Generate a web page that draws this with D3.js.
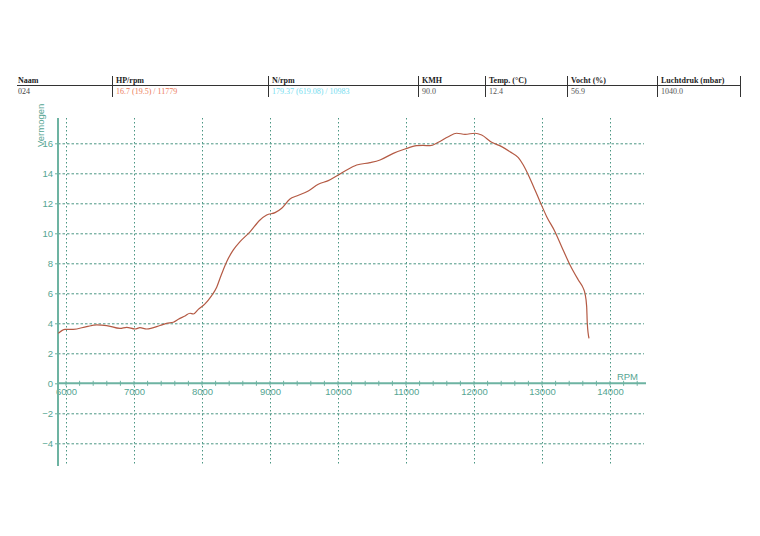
<!DOCTYPE html>
<html>
<head>
<meta charset="utf-8">
<script src="https://cdn.jsdelivr.net/npm/d3@7"></script>
<style>
  body { margin: 0; background: #fff; }
  svg { display: block; }
</style>
</head>
<body>
<script>
const width = 760;
const height = 536;

// header table
const headers = ["Naam", "HP/rpm", "N/rpm", "KMH", "Temp. (°C)", "Vocht (%)", "Luchtdruk (mbar)"];
const values = ["024", "16.7 (19.5) / 11779", "179.37 (619.08) / 10983", "90.0", "12.4", "56.9", "1040.0"];
const valueColors = ["#444", "#ec7a5a", "#74dcef", "#555", "#555", "#555", "#555"];
const colX = [18, 112, 268, 418, 485, 567, 657, 740];

// power curve (rpm, vermogen)
const rpm = [5887, 5985, 6107, 6304, 6451, 6598, 6794, 6892, 7015, 7088, 7186, 7382, 7480, 7578,
  7652, 7750, 7824, 7873, 7946, 7995, 8044, 8142, 8216, 8265, 8363, 8461, 8559, 8706, 8853,
  8951, 9074, 9172, 9294, 9392, 9563, 9710, 9857, 10004, 10128, 10275, 10471, 10618, 10813,
  10985, 11157, 11250, 11353, 11475, 11622, 11745, 11868, 12015, 12113, 12260, 12407, 12529,
  12652, 12725, 12799, 12897, 12971, 13069, 13191, 13289, 13412, 13534, 13608, 13632, 13657,
  13666, 13691];
const power = [3.33, 3.6, 3.6, 3.78, 3.89, 3.85, 3.66, 3.73, 3.62, 3.71, 3.62, 3.85, 4.0, 4.07,
  4.27, 4.49, 4.67, 4.62, 4.93, 5.1, 5.3, 5.85, 6.4, 7.0, 8.11, 8.89, 9.44, 10.1, 10.89,
  11.22, 11.38, 11.67, 12.29, 12.49, 12.82, 13.27, 13.51, 13.89, 14.22, 14.55, 14.71, 14.89, 15.33,
  15.62, 15.84, 15.86, 15.84, 16.07, 16.44, 16.67, 16.6, 16.67, 16.55, 16.07, 15.78, 15.44,
  15.04, 14.55, 13.89, 12.89, 12.11, 11.11, 10.11, 9.11, 7.89, 6.89, 6.33, 6.0, 5.11,
  4.0, 3.0];

const xTicks = d3.range(6000, 14001, 1000);
const yTicks = d3.range(-4, 17, 2);

const gridColor = "#4a9683";
const axisColor = "#6db3a2";
const textColor = "#55a592";

const svg = d3
  .select("body")
  .append("svg")
  .attr("width", width)
  .attr("height", height);

// header
const head = svg.append("g").attr("font-family", "Liberation Serif, serif").attr("font-size", 8);

head
  .append("line")
  .attr("x1", 17)
  .attr("x2", 741)
  .attr("y1", 85.5)
  .attr("y2", 85.5)
  .attr("stroke", "#333")
  .attr("stroke-width", 1);

head
  .selectAll("line.div")
  .data(colX.slice(1))
  .join("line")
  .attr("class", "div")
  .attr("x1", (d) => d + 0.5)
  .attr("x2", (d) => d + 0.5)
  .attr("y1", 76)
  .attr("y2", 97)
  .attr("stroke", "#333");

head
  .selectAll("text.h")
  .data(headers)
  .join("text")
  .attr("class", "h")
  .attr("x", (d, i) => colX[i] + (i ? 4 : 0))
  .attr("y", 83)
  .attr("font-weight", "bold")
  .attr("fill", "#222")
  .text((d) => d);

head
  .selectAll("text.v")
  .data(values)
  .join("text")
  .attr("class", "v")
  .attr("x", (d, i) => colX[i] + (i ? 4 : 0))
  .attr("y", 94)
  .attr("fill", (d, i) => valueColors[i])
  .text((d) => d);

// scales
const x = d3.scaleLinear().domain([6000, 14000]).range([66, 610]);
const y = d3.scaleLinear().domain([-4, 16]).range([443.3, 143.3]);

const xMin = x.invert(58);
const xMax = x.invert(646);
const xGridEnd = x.invert(644);
const yMin = y.invert(466);
const yMax = y.invert(118);

// grid
svg
  .append("g")
  .selectAll("line")
  .data(xTicks)
  .join("line")
  .attr("x1", (d) => x(d) + 0.5)
  .attr("x2", (d) => x(d) + 0.5)
  .attr("y1", y(yMax))
  .attr("y2", y(yMin))
  .attr("stroke", gridColor)
  .attr("stroke-width", 1)
  .attr("stroke-dasharray", "1.5,2.5");

svg
  .append("g")
  .selectAll("line")
  .data(yTicks.filter((d) => d !== 0))
  .join("line")
  .attr("x1", x(xMin))
  .attr("x2", x(xGridEnd))
  .attr("y1", (d) => y(d) + 0.5)
  .attr("y2", (d) => y(d) + 0.5)
  .attr("stroke", gridColor)
  .attr("stroke-width", 1)
  .attr("stroke-dasharray", "2.5,2");

// x axis along zero
const xAxis = (g) =>
  g
    .attr("transform", `translate(0,${y(0)})`)
    .call(
      d3.axisBottom(x).tickValues(xTicks).tickSize(0).tickPadding(5).tickFormat(d3.format("d"))
    )
    .call((g) => g.select(".domain").remove())
    .call((g) =>
      g
        .append("line")
        .attr("x1", x(xMin))
        .attr("x2", x(xMax))
        .attr("stroke", axisColor)
        .attr("stroke-width", 2)
    )
    .call((g) =>
      g
        .selectAll(".minor")
        .data(d3.range(6000, 14401, 200))
        .join("line")
        .attr("class", "minor")
        .attr("x1", (d) => x(d))
        .attr("x2", (d) => x(d))
        .attr("y1", -2.5)
        .attr("y2", 2.5)
        .attr("stroke", axisColor)
    )
    .call((g) =>
      g
        .selectAll(".tick text")
        .attr("fill", textColor)
        .attr("font-family", "Arial, Liberation Sans, sans-serif")
        .attr("font-size", 9.5)
    );

const yAxis = (g) =>
  g
    .attr("transform", `translate(${x(xMin)},0)`)
    .call(d3.axisLeft(y).tickValues(yTicks).tickSize(3).tickPadding(2))
    .call((g) => g.select(".domain").remove())
    .call((g) =>
      g
        .append("line")
        .attr("y1", y(yMax))
        .attr("y2", y(yMin))
        .attr("stroke", axisColor)
        .attr("stroke-width", 2)
    )
    .call((g) => g.selectAll(".tick line").attr("stroke", axisColor))
    .call((g) =>
      g
        .selectAll(".tick text")
        .attr("fill", textColor)
        .attr("font-family", "Arial, Liberation Sans, sans-serif")
        .attr("font-size", 9.5)
    );

svg.append("g").call(xAxis);
svg.append("g").call(yAxis);

// axis titles
svg
  .append("text")
  .attr("transform", `translate(44,147) rotate(-90)`)
  .attr("fill", textColor)
  .attr("font-family", "Arial, Liberation Sans, sans-serif")
  .attr("font-size", 9.5)
  .text("Vermogen");

svg
  .append("text")
  .attr("x", 638)
  .attr("y", y(0) - 3)
  .attr("text-anchor", "end")
  .attr("fill", textColor)
  .attr("font-family", "Arial, Liberation Sans, sans-serif")
  .attr("font-size", 9.5)
  .text("RPM");

// curve
const line = d3
  .line()
  .x((d, i) => x(rpm[i]))
  .y((d) => y(d))
  .curve(d3.curveMonotoneX);

svg
  .append("path")
  .datum(power)
  .attr("fill", "none")
  .attr("stroke", "#b45a44")
  .attr("stroke-width", 1.2)
  .attr("d", line);
</script>
</body>
</html>
